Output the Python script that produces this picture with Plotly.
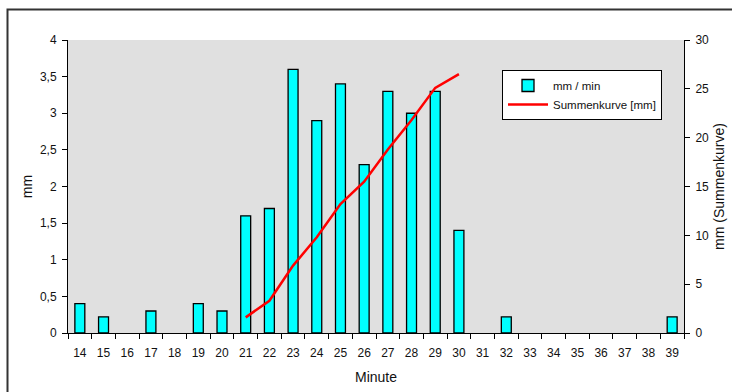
import plotly.graph_objects as go

minutes = [str(m) for m in range(14, 40)]
mm_per_min = [0.4, 0.22, None, 0.3, None, 0.4, 0.3, 1.6, 1.7, 3.6, 2.9, 3.4, 2.3,
              3.3, 3.0, 3.3, 1.4, None, 0.22, None, None, None, None, None, None, 0.22]
sum_minutes = [str(m) for m in range(21, 31)]
summenkurve = [1.6, 3.3, 6.9, 9.8, 13.2, 15.5, 18.8, 21.8, 25.1, 26.5]

W, H = 732, 392
L, R, T, B = 68, 48, 40, 59
pw, ph = W - L - R, H - T - B

def px(x):
    return (x - L) / pw

def py(y):
    return (H - B - y) / ph

font = dict(family="Liberation Sans, Arial, sans-serif", size=12, color="#111")

fig = go.Figure()
fig.add_trace(go.Bar(
    x=minutes, y=mm_per_min, name="mm / min",
    marker=dict(color="#00FFFF", line=dict(color="black", width=1.3)),
    yaxis="y",
))
fig.add_trace(go.Scatter(
    x=sum_minutes, y=summenkurve, name="Summenkurve [mm]", mode="lines",
    line=dict(color="#FF0000", width=2.5), yaxis="y2",
))

fig.update_layout(
    width=W, height=H,
    margin=dict(l=L, r=R, t=T, b=B, autoexpand=False),
    paper_bgcolor="white", plot_bgcolor="#E0E0E0",
    font=font, separators=",.",
    bargap=0.58,
    showlegend=True,
    legend=dict(x=px(502), y=py(70), xanchor="left", yanchor="top",
                bgcolor="white", bordercolor="black", borderwidth=1,
                font=dict(family="Liberation Sans, Arial, sans-serif", size=11.5, color="#111"),
                tracegroupgap=2, itemwidth=40),
    xaxis=dict(type="category", categoryorder="array", categoryarray=minutes,
               tickson="boundaries", ticks="outside", ticklen=5, tickcolor="black",
               showline=True, linecolor="black", linewidth=1, showgrid=False,
               ticklabelstandoff=9, automargin=False,
               title=dict(text="Minute", standoff=12), tickfont=font),
    yaxis=dict(range=[0, 4], dtick=0.5, tick0=0, ticks="outside", ticklen=5, tickcolor="black",
               showline=True, linecolor="black", linewidth=1, showgrid=False, zeroline=False,
               ticklabelstandoff=3, automargin=False,
               title=dict(text="mm", standoff=4), tickfont=font),
    yaxis2=dict(range=[0, 30], dtick=5, tick0=0, overlaying="y", side="right",
                ticks="outside", ticklen=5, tickcolor="black",
                showline=True, linecolor="black", linewidth=1, showgrid=False, zeroline=False,
                ticklabelstandoff=3, automargin=False,
                title=dict(text="mm (Summenkurve)", standoff=6), tickfont=font),
    shapes=[dict(type="rect", xref="paper", yref="paper",
                 x0=px(7.5), x1=px(740), y0=py(400), y1=py(9.5),
                 line=dict(color="#333", width=2), fillcolor="rgba(0,0,0,0)", layer="below")],
)

fig.write_html("out.html")
